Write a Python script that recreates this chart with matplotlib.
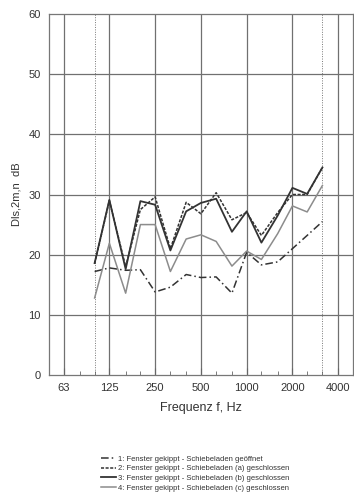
import matplotlib

matplotlib.use("Agg")
from matplotlib import pyplot as plt

plt.rcParams["font.family"] = ["Liberation Sans", "DejaVu Sans"]

freqs = [100, 125, 160, 200, 250, 315, 400, 500, 630, 800,
         1000, 1250, 1600, 2000, 2500, 3150]
s1 = [17.2, 17.8, 17.4, 17.5, 13.8, 14.6, 16.7, 16.2, 16.3, 13.6,
      20.4, 18.3, 18.8, 21.0, 23.2, 25.5]
s2 = [18.5, 29.0, 18.0, 27.5, 29.6, 21.0, 28.7, 26.8, 30.3, 25.8,
      27.0, 23.2, 27.0, 30.0, 30.0, 34.5]
s3 = [18.6, 29.1, 17.6, 28.9, 28.3, 20.7, 27.2, 28.6, 29.3, 23.8,
      27.2, 22.0, 26.5, 31.1, 30.1, 34.5]
s4 = [12.8, 21.9, 13.6, 25.0, 25.0, 17.2, 22.6, 23.3, 22.2, 18.1,
      20.6, 19.2, 23.5, 28.1, 27.1, 31.5]
labels = [
    "1: Fenster gekippt - Schiebeladen geöffnet",
    "2: Fenster gekippt - Schiebeladen (a) geschlossen",
    "3: Fenster gekippt - Schiebeladen (b) geschlossen",
    "4: Fenster gekippt - Schiebeladen (c) geschlossen",
]
major = [63, 125, 250, 500, 1000, 2000, 4000]
minor = [80, 100, 160, 200, 315, 400, 630, 800, 1250, 1600, 2500, 3150]

fig = plt.figure(figsize=(3.54, 4.97), dpi=100)
ax = fig.add_axes([0.138, 0.2455, 0.859, 0.7263])

ax.set_xscale("log")
ax.set_xlim(50, 5000)
ax.set_ylim(0, 60)

for f in major:
    ax.axvline(f, color="#707070", lw=0.9, zorder=1)
for f in (100, 3150):
    ax.axvline(f, color="#777777", lw=0.7, ls=(0, (1, 1.5)), zorder=1)
for v in range(10, 60, 10):
    ax.axhline(v, color="#707070", lw=0.9, zorder=1)

ax.plot(freqs, s1, color="#333333", lw=1.1, ls=(0, (5, 2, 1, 2)), label=labels[0], zorder=3)
ax.plot(freqs, s2, color="#333333", lw=1.1, ls=(0, (2, 1)), label=labels[1], zorder=3)
ax.plot(freqs, s3, color="#333333", lw=1.3, label=labels[2], zorder=3)
ax.plot(freqs, s4, color="#8c8c8c", lw=1.1, label=labels[3], zorder=3)

ax.set_xticks(major)
ax.set_xticklabels([str(f) for f in major])
ax.set_xticks(minor, minor=True)
ax.set_xticklabels([], minor=True)
ax.set_yticks(range(0, 61, 10))
ax.tick_params(axis="both", which="major", labelsize=8, length=0, pad=6, colors="#333333")
ax.tick_params(axis="x", which="minor", length=3, direction="in", color="#666666")
ax.tick_params(axis="x", which="major", length=5, direction="in", color="#666666")
for sp in ax.spines.values():
    sp.set_color("#777777")
    sp.set_linewidth(0.9)

ax.set_xlabel("Frequenz f, Hz", fontsize=9, color="#333333", labelpad=6)
ax.set_ylabel("Dls,2m,n  dB", fontsize=8, color="#333333", labelpad=5)

fig.legend(loc="lower left", bbox_to_anchor=(0.27, 0.0), fontsize=5.5, frameon=False,
           handlelength=2.0, handletextpad=0.2, labelspacing=0.3, borderaxespad=0.3,
           labelcolor="#333333")

fig.savefig("out.png", dpi=100)
plt.close(fig)
